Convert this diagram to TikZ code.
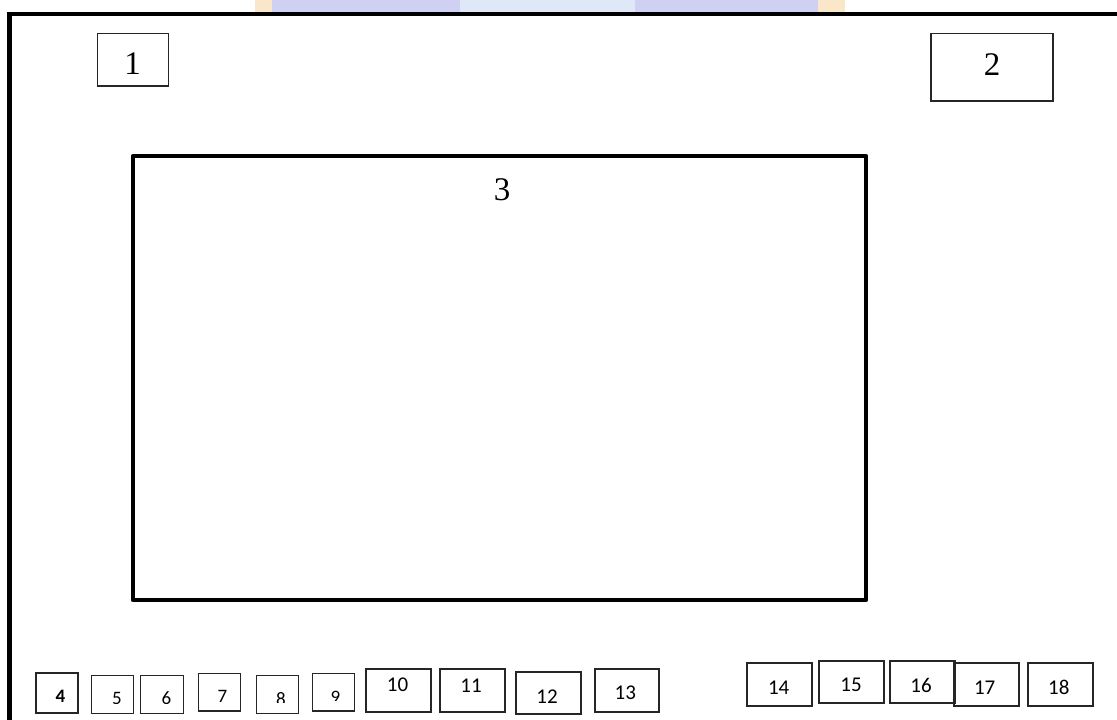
\documentclass[tikz,border=0pt]{standalone}
\usepackage{fontspec}
\setmainfont{Liberation Serif}
\newfontfamily\calfont{Carlito}
\definecolor{wmlav}{RGB}{208,208,242}
\definecolor{wmorange}{RGB}{250,230,200}
\definecolor{wmblue}{RGB}{222,232,246}
\begin{document}
\begin{tikzpicture}[x=1pt,y=-1pt,
  framebox/.style={draw=black,line width=4.5pt},
  bigbox/.style={draw=black,line width=4.5pt,line join=round,inner sep=0pt},
  smallbox/.style={draw=black!85,line width=1.2pt,inner sep=0pt},
  topbox/.style={draw=black!85,line width=1.3pt,inner sep=0pt},
  serifnum/.style={font=\fontsize{33}{33}\selectfont,inner sep=0pt},
  calnum/.style={font=\calfont\fontsize{21}{21}\selectfont,inner sep=0pt},
  calsmall/.style={font=\calfont\fontsize{19}{19}\selectfont,inner sep=0pt}
]
\useasboundingbox (0,0) rectangle (1117,720);
\clip (0,0) rectangle (1117,720);
% faint watermark remnant at the top
\fill[wmorange] (255,0) rectangle (275,12);
\fill[wmlav] (272,0) rectangle (818,12);
\fill[wmblue] (460,0) rectangle (635,12);
\fill[wmorange] (818,0) rectangle (845,12);
% outer frame (open to the right and bottom)
\draw[framebox] (9.5,740) -- (9.5,14) -- (1140,14);
% top boxes
\node[topbox,minimum width=71pt,minimum height=52.3pt] (b1) at (132.8,59.9) {};
\node[serifnum] (l1) at (132.5,64) {1};
\node[topbox,minimum width=122pt,minimum height=67.3pt] (b2) at (992,67.4) {};
\node[serifnum] (l2) at (992,65) {2};
% big box
\node[bigbox,minimum width=733pt,minimum height=444pt] (b3) at (499.5,378) {};
\node[serifnum] (l3) at (502,190) {3};
% bottom row, small boxes
\node[smallbox,minimum width=42pt,minimum height=40pt] (b4) at (57,693) {};
\node[calsmall,font=\calfont\bfseries\fontsize{19}{19}\selectfont] (l4) at (60.5,696.5) {4};
\node[smallbox,minimum width=41.6pt,minimum height=37.6pt] (b5) at (112.5,694.5) {};
\node[smallbox,minimum width=42.6pt,minimum height=37.6pt] (b6) at (162,694.5) {};
\node[smallbox,minimum width=42.4pt,minimum height=37.7pt] (b7) at (219.5,692.2) {};
\node[calsmall] (l7) at (222.5,696) {7};
\node[smallbox,minimum width=41.6pt,minimum height=37.6pt] (b8) at (277.5,694.5) {};
\node[smallbox,minimum width=42pt,minimum height=37.7pt] (b9) at (333.3,692.2) {};
\begin{scope}
  \clip (90,670) rectangle (190,703.5);
  \node[calsmall] (l5) at (117,698) {5};
  \node[calsmall] (l6) at (166.5,698) {6};
\end{scope}
\begin{scope}
  \clip (255,670) rectangle (300,702.5);
  \node[calsmall] (l8) at (281,699) {8};
\end{scope}
\begin{scope}
  \clip (310,670) rectangle (356,700);
  \node[calsmall] (l9) at (335.5,697) {9};
\end{scope}
% bottom row, wider boxes
\node[smallbox,minimum width=65pt,minimum height=43pt] (b10) at (398.5,690.5) {};
\node[calnum] (l10) at (397.5,685) {10};
\node[smallbox,minimum width=65pt,minimum height=43pt] (b11) at (472.5,690.5) {};
\node[calnum] (l11) at (471,686) {11};
\node[smallbox,minimum width=65pt,minimum height=42pt] (b12) at (548.5,693) {};
\node[calnum] (l12) at (547,697) {12};
\node[smallbox,minimum width=64pt,minimum height=43pt] (b13) at (627,690.5) {};
\node[calnum] (l13) at (625.3,693) {13};
\node[smallbox,minimum width=65pt,minimum height=43pt] (b14) at (779.5,684.5) {};
\node[calnum] (l14) at (778.7,687.5) {14};
\node[smallbox,minimum width=65pt,minimum height=42pt] (b15) at (851.5,682) {};
\node[calnum] (l15) at (851,685) {15};
\node[smallbox,minimum width=65pt,minimum height=42pt] (b16) at (922.5,682) {};
\node[calnum] (l16) at (921,685) {16};
\node[smallbox,minimum width=65pt,minimum height=43pt] (b17) at (986.5,684.5) {};
\node[calnum] (l17) at (984.7,687.5) {17};
\node[smallbox,minimum width=65pt,minimum height=43pt] (b18) at (1060.5,684.5) {};
\node[calnum] (l18) at (1058.8,687.5) {18};
\end{tikzpicture}
\end{document}
